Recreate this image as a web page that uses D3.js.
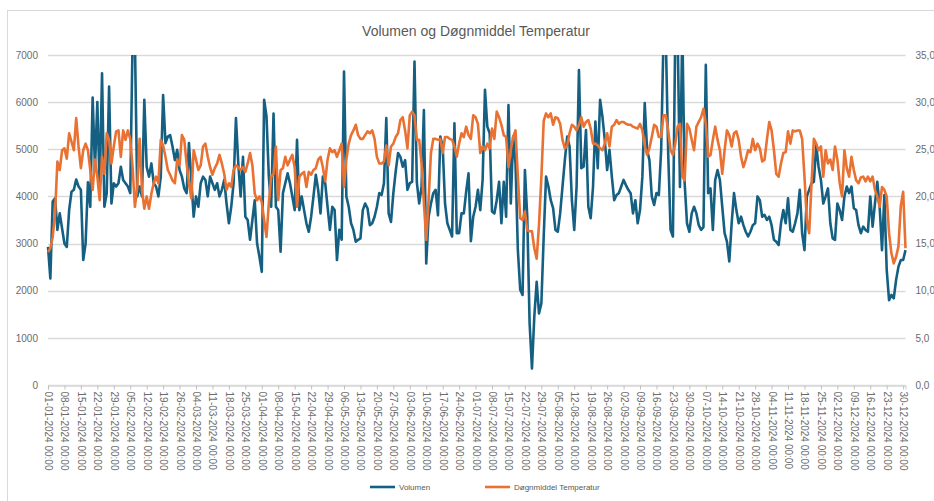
<!DOCTYPE html>
<html>
<head>
<meta charset="utf-8">
<script src="https://cdn.jsdelivr.net/npm/d3@7/dist/d3.min.js"></script>
<style>
  html, body { margin: 0; padding: 0; background: #fff; }
  svg { display: block; font-family: "Liberation Sans", Arial, sans-serif; }
</style>
</head>
<body>
<div id="chart"></div>
<script>
var title = 'Volumen og Døgnmiddel Temperatur';
var seriesNames = ['Volumen', 'Døgnmiddel Temperatur'];
var startDate = new Date(2024, 0, 1);
var dateTickStep = 7;

var volumenTicks = [0, 1000, 2000, 3000, 4000, 5000, 6000, 7000];
var temperaturTicks = [0, 5, 10, 15, 20, 25, 30, 35];

// one value per day, 01-01-2024 .. 31-12-2024
var volumen = [
  2930, 2260, 3890, 3960, 3290, 3640, 3320, 3000, 2930, 3710,
  4100, 4140, 4360, 4210, 4140, 2650, 3000, 4300, 3780, 6100,
  4600, 6000, 4140, 6610, 3780, 4070, 6330, 3850, 4280, 4210,
  4280, 4630, 4350, 4280, 4210, 4070, 7300, 7300, 4000, 4210,
  4000, 6050, 4630, 4420, 4700, 4280, 4210, 4000, 4420, 6150,
  5130, 5270, 5300, 5060, 4770, 4990, 4560, 4420, 4170, 4070,
  5130, 4350, 3570, 4000, 3780, 4280, 4420, 4350, 4000, 4420,
  4280, 4140, 4280, 4000, 4140, 4350, 3850, 3430, 3780, 4280,
  5660, 4700, 4000, 4840, 3570, 3500, 3080, 3500, 3920, 3000,
  2720, 2400, 6050, 5700, 4420, 3780, 5760, 3780, 3710, 2830,
  4070, 4280, 4490, 4280, 4000, 3710, 5200, 3710, 4000, 3710,
  3430, 3250, 3570, 4000, 4460, 4140, 3640, 4420, 4280, 3780,
  3290, 3780, 3710, 2650, 3290, 3080, 6650, 4000, 3780, 3430,
  3290, 3040, 3080, 3110, 3710, 3850, 3750, 3390, 3430, 3570,
  3780, 4070, 4030, 4280, 5660, 3640, 3460, 4070, 4530, 4920,
  4840, 4630, 4770, 4140, 4280, 4310, 6860, 4300, 3850, 4200,
  5830, 2580, 3570, 3850, 4070, 4140, 3600, 5270, 5060, 3850,
  3430, 3290, 3150, 5550, 3220, 3220, 3640, 3640, 4100, 4490,
  3050, 3570, 3780, 4140, 3710, 4350, 6260, 5480, 5340, 3680,
  3640, 3920, 4310, 3430, 4310, 3570, 5940, 3850, 5270, 4700,
  2860, 2020, 1910, 4560, 3570, 1310, 350, 1450, 2190, 1520,
  1730, 3150, 4420, 4210, 3920, 3750, 3290, 3250, 3640, 4210,
  4770, 5270, 5060, 3920, 3290, 4210, 6680, 4600, 4630, 5410,
  3780, 3540, 4210, 5590, 4600, 6050, 5690, 5200, 4560, 4990,
  4420, 3920, 4030, 4070, 4210, 4350, 4240, 4140, 4070, 3640,
  3920, 3430, 3710, 4420, 5980, 4990, 4770, 4000, 3820, 4070,
  4030, 4990, 7400, 7300, 4900, 3290, 3150, 7500, 7500, 4200,
  7600, 4280, 3430, 3250, 3640, 3780, 3640, 3390, 3290, 3350,
  6790, 4070, 4170, 3290, 4350, 4560, 4350, 3780, 3220, 3040,
  2620, 3430, 4070, 3710, 3430, 3570, 3390, 3250, 3150, 3250,
  3390, 3430, 4000, 3920, 3570, 3610, 3500, 3570, 3390, 3080,
  3040, 2970, 3430, 3710, 3430, 3960, 3290, 3250, 3430, 3640,
  4140, 3220, 2860, 4000, 4140, 4280, 4310, 5090, 4630, 4350,
  3850, 4000, 4170, 3430, 3110, 3080, 3850, 3710, 3500, 4000,
  4210, 4070, 4210, 3750, 3710, 3390, 3220, 3360, 3290, 3250,
  4000, 3360, 3850, 4310, 3780, 2860, 4030, 2440, 1800, 1910,
  1840, 2230, 2510, 2650, 2650, 2860
];

var temperatur = [
  14.1, 14.5, 15.7, 18.2, 23.7, 22.8, 24.9, 25.1, 24.0, 26.7,
  25.8, 24.9, 28.3, 25.3, 23.0, 24.9, 25.6, 24.9, 22.8, 20.7,
  23.9, 22.1, 19.6, 24.2, 22.4, 26.7, 26.0, 23.5, 25.3, 26.9,
  27.0, 24.2, 27.0, 26.0, 27.0, 26.1, 23.1, 18.9, 21.0, 26.1,
  20.7, 18.7, 20.0, 18.7, 20.3, 21.4, 22.1, 21.4, 26.0, 25.4,
  24.2, 22.8, 22.3, 21.7, 21.4, 23.9, 23.3, 26.5, 26.0, 23.5,
  21.4, 19.8, 24.9, 23.9, 22.8, 23.3, 25.3, 25.6, 24.2, 23.1,
  22.3, 23.0, 23.5, 24.4, 23.5, 22.4, 20.7, 21.4, 21.0, 22.8,
  23.3, 23.1, 22.8, 23.1, 22.6, 23.5, 24.6, 23.3, 20.3, 19.6,
  20.0, 19.4, 17.5, 15.7, 19.3, 22.1, 22.4, 25.3, 19.6, 22.8,
  23.0, 24.2, 23.3, 23.9, 24.4, 23.1, 18.9, 22.1, 22.4, 22.6,
  21.0, 22.6, 22.3, 22.8, 23.0, 23.9, 24.2, 23.1, 21.6, 23.9,
  25.1, 24.7, 24.9, 24.2, 24.9, 25.6, 21.0, 23.9, 25.6, 26.5,
  27.0, 27.6, 26.5, 26.1, 26.1, 26.5, 26.9, 26.7, 27.0, 26.1,
  24.2, 23.5, 23.5, 23.7, 25.4, 23.3, 25.3, 25.6, 26.3, 26.7,
  28.1, 28.4, 27.0, 25.1, 28.6, 29.0, 28.6, 26.0, 26.0, 23.5,
  19.3, 15.4, 19.6, 24.6, 26.1, 26.1, 26.0, 26.1, 24.6, 26.3,
  26.3, 26.1, 26.0, 25.3, 24.2, 25.6, 26.7, 26.3, 27.4, 26.5,
  26.1, 28.6, 28.4, 27.7, 24.6, 25.3, 24.9, 25.6, 25.1, 27.2,
  26.1, 29.0, 28.4, 27.6, 26.5, 26.3, 23.1, 24.9, 26.3, 27.0,
  22.1, 17.7, 17.5, 18.4, 16.4, 16.3, 16.3, 14.5, 13.4, 17.0,
  22.0, 28.0, 28.8, 28.4, 28.8, 27.6, 28.4, 28.3, 27.7, 26.0,
  25.1, 25.4, 26.7, 27.6, 27.4, 27.0, 27.6, 28.4, 27.4, 27.9,
  28.1, 27.2, 25.6, 25.6, 25.4, 25.1, 24.9, 25.6, 26.7, 25.3,
  27.4, 27.6, 28.1, 27.7, 27.9, 27.9, 27.7, 27.6, 27.6, 27.4,
  27.3, 27.2, 27.7, 27.0, 25.4, 24.4, 25.1, 26.3, 27.6, 27.4,
  26.3, 26.3, 28.6, 28.6, 27.0, 24.9, 24.4, 25.6, 27.4, 27.7,
  22.1, 21.7, 27.7, 27.2, 26.0, 24.9, 27.4, 27.9, 28.4, 29.3,
  27.7, 24.2, 24.4, 26.0, 27.4, 26.0, 24.9, 22.4, 24.9, 27.0,
  26.5, 25.3, 26.7, 26.9, 26.0, 24.2, 23.1, 23.9, 24.9, 24.7,
  26.1, 24.9, 25.6, 25.1, 23.7, 23.9, 26.0, 27.9, 27.0, 24.9,
  22.4, 22.1, 23.5, 24.6, 24.7, 26.9, 25.6, 27.0, 26.9, 27.0,
  27.0, 26.1, 22.1, 17.5, 16.1, 21.4, 26.1, 25.6, 24.9, 25.3,
  22.1, 24.9, 23.5, 23.9, 22.8, 25.3, 23.9, 21.4, 20.0, 24.9,
  23.0, 22.1, 24.2, 22.8, 21.7, 21.4, 22.0, 22.1, 21.6, 22.1,
  21.6, 22.1, 20.7, 20.0, 18.9, 21.0, 20.7, 20.0, 16.1, 14.0,
  12.9, 13.6, 14.7, 19.0, 20.5, 14.5
];

(function(d3) {

  'use strict';

  var Chart = function(element) {
    this.element = element;
    this.width = 934;
    this.height = 501;
    this.plot = { left: 48, right: 905.5, top: 55, bottom: 385 };
    this.colors = { volumen: '#156082', temperatur: '#e97132', grid: '#d9d9d9', text: '#6b6b6b' };
    this.svg = null;
  };

  Chart.prototype = {

    init: function() {
      this.setSvg();
      this.setScales();
      this.drawFrame();
      this.drawGrid();
      this.drawAxes();
      this.drawLines();
      this.drawLegend();
    },

    setSvg: function() {
      this.svg = d3.select(this.element)
        .append('svg')
        .attr('width', this.width)
        .attr('height', this.height);
    },

    setScales: function() {
      this.x = d3.scaleLinear()
        .domain([0, volumen.length - 1])
        .range([this.plot.left, this.plot.right]);
      this.yLeft = d3.scaleLinear()
        .domain([0, 7000])
        .range([this.plot.bottom, this.plot.top]);
      this.yRight = d3.scaleLinear()
        .domain([0, 35])
        .range([this.plot.bottom, this.plot.top]);
    },

    drawFrame: function() {
      this.svg.append('rect')
        .attr('x', 7.5).attr('y', 10.5)
        .attr('width', 960).attr('height', 520)
        .attr('fill', 'none')
        .attr('stroke', this.colors.grid);

      this.svg.append('text')
        .attr('x', 476).attr('y', 36)
        .attr('text-anchor', 'middle')
        .attr('font-size', 14)
        .attr('fill', '#595959')
        .text(title);
    },

    drawGrid: function() {
      this.svg.append('g')
        .selectAll('line')
        .data(volumenTicks)
        .enter()
        .append('line')
        .attr('x1', this.plot.left)
        .attr('x2', this.plot.right)
        .attr('y1', function(d) { return Math.round(this.yLeft(d)) + 0.5; }.bind(this))
        .attr('y2', function(d) { return Math.round(this.yLeft(d)) + 0.5; }.bind(this))
        .attr('stroke', this.colors.grid)
        .attr('stroke-width', 1.3);
    },

    drawAxes: function() {
      var comma = d3.formatLocale({ decimal: ',', thousands: '.', grouping: [3], currency: ['', ''] }).format('.1f');
      var dateFmt = d3.timeFormat('%d-%m-%Y %H:%M');

      var left = this.svg.append('g')
        .attr('transform', 'translate(' + this.plot.left + ',0)')
        .call(d3.axisLeft(this.yLeft).tickValues(volumenTicks).tickSize(0).tickPadding(10).tickFormat(d3.format('d')));
      this.styleAxis(left);

      var right = this.svg.append('g')
        .attr('transform', 'translate(' + this.plot.right + ',0)')
        .call(d3.axisRight(this.yRight).tickValues(temperaturTicks).tickSize(0).tickPadding(10).tickFormat(comma));
      this.styleAxis(right);

      var bottom = this.svg.append('g')
        .attr('transform', 'translate(0,' + (Math.round(this.plot.bottom) + 0.5) + ')')
        .call(d3.axisBottom(this.x)
          .tickValues(d3.range(0, volumen.length, dateTickStep))
          .tickSize(4)
          .tickFormat(function(d) { return dateFmt(d3.timeDay.offset(startDate, d)); }));
      bottom.select('.domain').attr('stroke', this.colors.grid).attr('stroke-width', 1.3);
      bottom.selectAll('.tick line').attr('stroke', '#bfbfbf');
      bottom.selectAll('text')
        .attr('transform', 'rotate(90)')
        .attr('text-anchor', 'start')
        .attr('x', 6)
        .attr('y', 0)
        .attr('dy', '0.35em')
        .attr('font-size', 10)
        .attr('font-family', '"Liberation Sans", Arial, sans-serif')
        .attr('fill', this.colors.text);
    },

    styleAxis: function(axis) {
      axis.select('.domain').remove();
      axis.selectAll('text')
        .attr('font-size', 10)
        .attr('font-family', '"Liberation Sans", Arial, sans-serif')
        .attr('fill', this.colors.text);
    },

    drawLines: function() {
      this.svg.append('clipPath')
        .attr('id', 'plot-clip')
        .append('rect')
        .attr('x', this.plot.left - 3)
        .attr('y', this.plot.top)
        .attr('width', this.plot.right - this.plot.left + 6)
        .attr('height', this.plot.bottom - this.plot.top + 3);

      var g = this.svg.append('g').attr('clip-path', 'url(#plot-clip)');

      var lineV = d3.line()
        .x(function(d, i) { return this.x(i); }.bind(this))
        .y(function(d) { return this.yLeft(d); }.bind(this));
      var lineT = d3.line()
        .x(function(d, i) { return this.x(i); }.bind(this))
        .y(function(d) { return this.yRight(d); }.bind(this));

      g.append('path')
        .datum(volumen)
        .attr('d', lineV)
        .attr('fill', 'none')
        .attr('stroke', this.colors.volumen)
        .attr('stroke-width', 2.6)
        .attr('stroke-linejoin', 'round');

      g.append('path')
        .datum(temperatur)
        .attr('d', lineT)
        .attr('fill', 'none')
        .attr('stroke', this.colors.temperatur)
        .attr('stroke-width', 2.6)
        .attr('stroke-linejoin', 'round');
    },

    drawLegend: function() {
      var items = [
        { name: seriesNames[0], color: this.colors.volumen, x: 370 },
        { name: seriesNames[1], color: this.colors.temperatur, x: 485 }
      ];
      var legend = this.svg.append('g').attr('transform', 'translate(0,487)');
      var item = legend.selectAll('g')
        .data(items)
        .enter()
        .append('g')
        .attr('transform', function(d) { return 'translate(' + d.x + ',0)'; });
      item.append('line')
        .attr('x1', 0).attr('x2', 25)
        .attr('stroke', function(d) { return d.color; })
        .attr('stroke-width', 2.6);
      item.append('text')
        .attr('x', 29)
        .attr('dy', '0.35em')
        .attr('font-size', 8)
        .attr('fill', '#595959')
        .text(function(d) { return d.name; });
    },

  };

  var app = new Chart('#chart');
  app.init();

})(d3);
</script>
</body>
</html>
